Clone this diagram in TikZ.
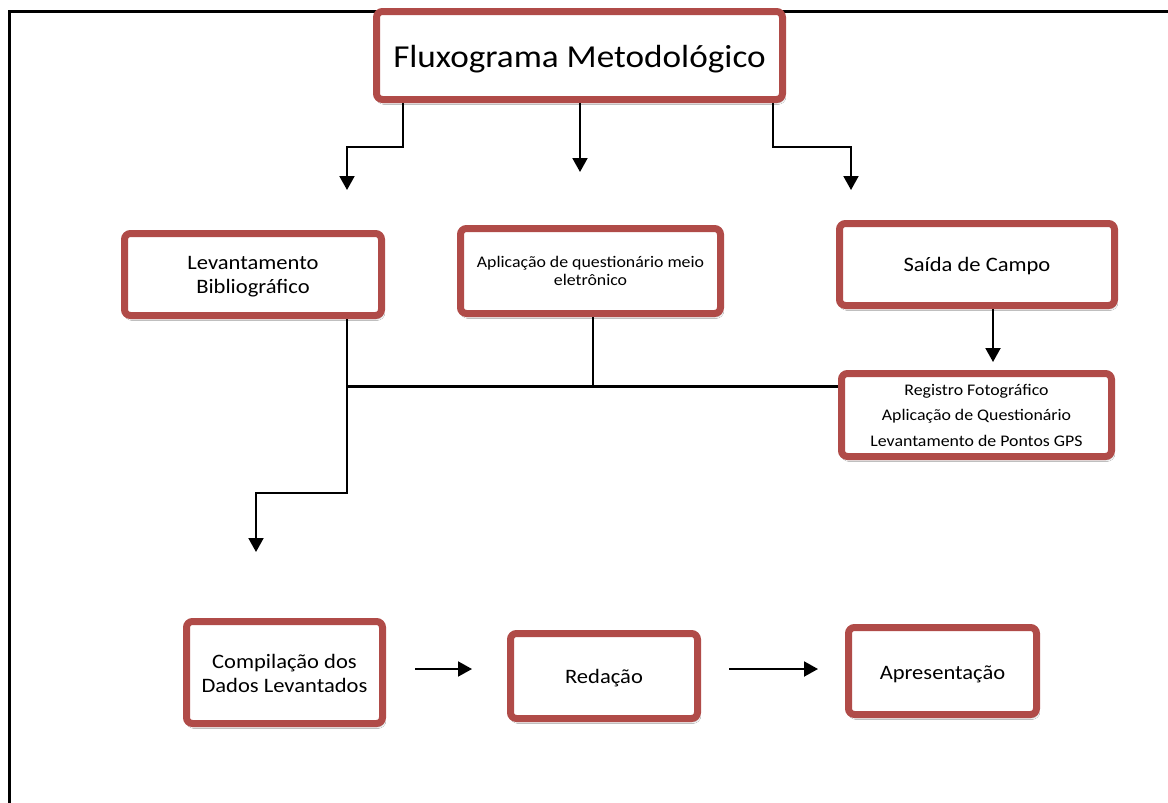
\documentclass[tikz,border=0pt]{standalone}
\usepackage{fontspec}
\setmainfont{Carlito}[FakeStretch=1.1]
\usetikzlibrary{arrows.meta,shadows.blur}
\definecolor{boxred}{RGB}{176,75,72}
\newcommand\lowered[2]{\raisebox{-#1}[\height][\depth]{\begin{tabular}{@{}c@{}}#2\end{tabular}}}
\tikzset{
  box/.style={draw=boxred, line width=7pt, rounded corners=6pt, fill=white,
    align=center, inner sep=2pt,
    blur shadow={shadow xshift=1.5pt, shadow yshift=-3pt, shadow blur steps=6, shadow opacity=35}},
  txtbig/.style={font=\fontsize{32}{38}\selectfont},
  txtmid/.style={font=\fontsize{20.5}{24}\selectfont},
  txtsm/.style={font=\fontsize{16.2}{18}\selectfont},
  txtreg/.style={font=\fontsize{16.2}{25.5}\selectfont},
  conn/.style={line width=2pt, black},
  arr/.style={conn, -{Triangle[width=15pt,length=14pt]}},
  frame/.style={line width=3pt, black}
}
\begin{document}
\begin{tikzpicture}[x=1pt,y=-1pt]
\useasboundingbox (0,0) rectangle (1168,803);
\fill[white] (0,0) rectangle (1168,803);
% frame
\draw[frame] (9.5,806) -- (9.5,11.5) -- (1170,11.5);

% nodes
\node[box, txtbig, minimum width=406pt, minimum height=88pt] (title) at (579.5,55.5) {\lowered{4pt}{Fluxograma Metodológico}};
\node[box, txtmid, minimum width=257pt, minimum height=82pt] (lev) at (253,274.5) {\lowered{2pt}{Levantamento\\Bibliográfico}};
\node[box, txtsm, minimum width=260pt, minimum height=85pt] (apl) at (590.5,271) {Aplicação de questionário meio\\eletrônico};
\node[box, txtmid, minimum width=275pt, minimum height=82pt] (sai) at (977,264.5) {\lowered{2pt}{Saída de Campo}};
\node[box, txtreg, minimum width=270pt, minimum height=83pt] (reg) at (976.5,415) {Registro Fotográfico\\Aplicação de Questionário\\Levantamento de Pontos GPS};
\node[box, txtmid, minimum width=196pt, minimum height=102pt] (comp) at (284.5,672.5) {\lowered{3pt}{Compilação dos\\Dados Levantados}};
\node[box, txtmid, minimum width=187pt, minimum height=85pt] (red) at (604,676) {\lowered{3pt}{Redação}};
\node[box, txtmid, minimum width=188pt, minimum height=87pt] (apr) at (942.5,671) {\lowered{3.5pt}{Apresentação}};

% arrow tips / junctions
\coordinate (a1) at (347,190);
\coordinate (a2) at (580,172);
\coordinate (a3) at (851,190);
\coordinate (a4) at (993,362);
\coordinate (a5) at (256,552);
\coordinate (j1) at (347,386);

% connectors
\draw[arr] ([xshift=-176.5pt]title.south) -- ++(0,44) -| (a1);
\draw[arr] (title.south -| a2) -- (a2);
\draw[arr] ([xshift=193.5pt]title.south) -- ++(0,44) -| (a3);
\draw[arr] (sai.south -| a4) -- (a4);
\draw[arr] ([xshift=94pt]lev.south) -- ++(0,174) -| (a5);
\draw[conn] ([xshift=2.5pt]apl.south) -- ([xshift=2.5pt]apl.south |- j1);
\draw[line width=3pt] (j1) -- (reg.west |- j1);
\draw[arr, shorten <=29pt, shorten >=35pt] ([yshift=3.5pt]comp.east) -- ([yshift=3.5pt]comp.east -| red.west);
\draw[arr, shorten <=28pt, shorten >=27pt] ([yshift=2pt]apr.west -| red.east) -- ([yshift=2pt]apr.west);
\end{tikzpicture}
\end{document}
